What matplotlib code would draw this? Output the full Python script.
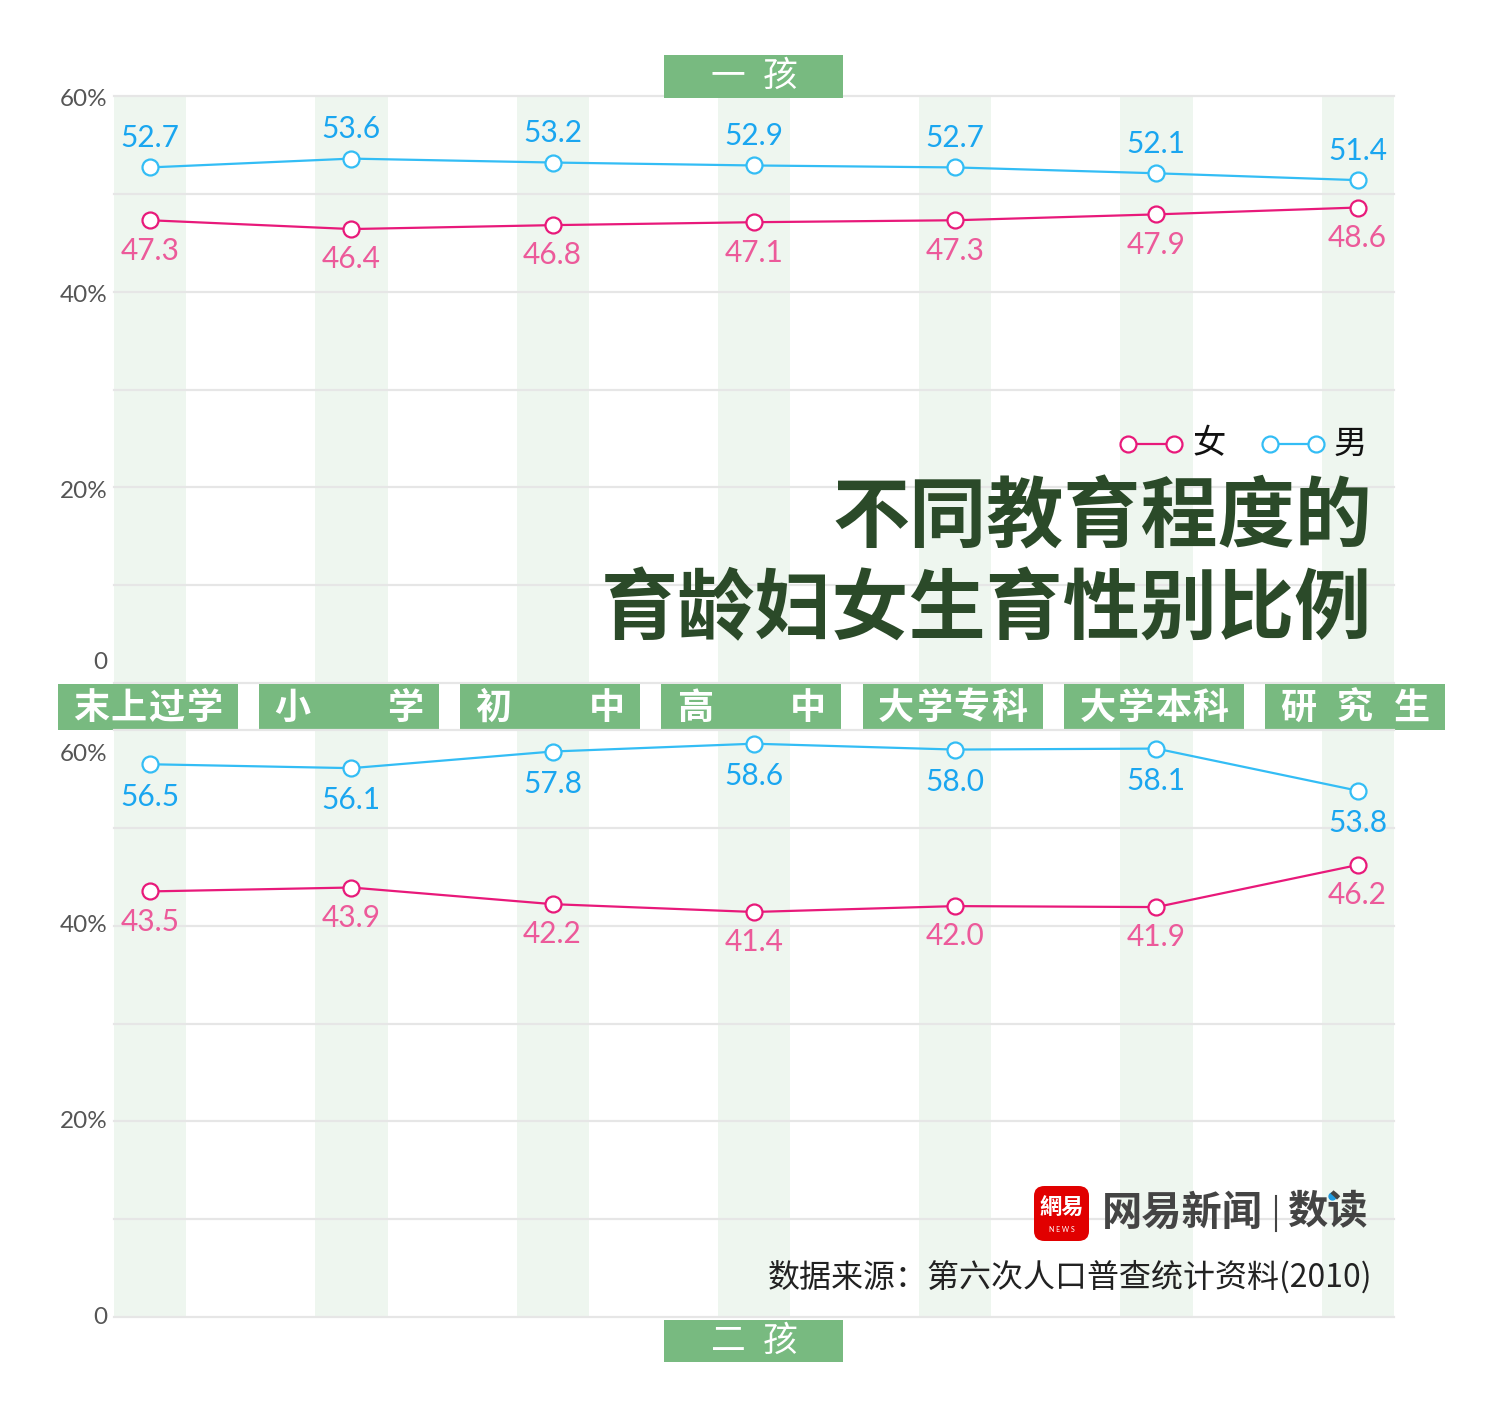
import numpy as np
import matplotlib
matplotlib.use("Agg")
import matplotlib.pyplot as plt
from matplotlib.patches import Rectangle, FancyBboxPatch
from matplotlib.lines import Line2D

plt.rcParams['font.family'] = ['Noto Sans CJK SC', 'DejaVu Sans']

# data
categories = ['末上过学', '小学', '初中', '高中', '大学专科', '大学本科', '研究生']
first_male = [52.7, 53.6, 53.2, 52.9, 52.7, 52.1, 51.4]
first_female = [47.3, 46.4, 46.8, 47.1, 47.3, 47.9, 48.6]
second_male = [56.5, 56.1, 57.8, 58.6, 58.0, 58.1, 53.8]
second_female = [43.5, 43.9, 42.2, 41.4, 42.0, 41.9, 46.2]
tick_vals = [0, 20, 40, 60]
tick_text = ['0', '20%', '40%', '60%']

BLUE = '#33BDF5'
BLUE_TXT = '#1AA6F0'
PINK = '#E8197A'
PINK_TXT = '#EC5A9A'
GREEN = '#78BA80'
STRIPE = '#EEF6EF'
GRID = '#E6E6E6'
TITLE = '#2B4A29'
NUMFONT = ['Lato', 'DejaVu Sans']

W, H = 1500, 1414
fig = plt.figure(figsize=(15, 14.14), dpi=100)


def fy(py):
    return 1 - py / H


def make_ax(top, bottom):
    ax = fig.add_axes([114 / W, fy(bottom), 1280 / W, (bottom - top) / H])
    ax.set_xlim(-0.179, 6.181)
    ax.set_ylim(0, 60)
    for s in ax.spines.values():
        s.set_visible(False)
    ax.set_xticks([])
    ax.set_yticks([])
    ax.patch.set_alpha(0)
    x = np.arange(len(categories))
    for i in x:
        ax.axvspan(i - 0.179, i + 0.181, color=STRIPE, lw=0, zorder=0)
    for g in range(0, 70, 10):
        ax.axhline(g, color=GRID, lw=1.6, zorder=1, clip_on=False)
    return ax, x


ax1, x = make_ax(96, 683)
ax2, _ = make_ax(730, 1317)

ms = 11.5
for ax, male, female, male_up in [(ax1, first_male, first_female, True),
                                  (ax2, second_male, second_female, False)]:
    ax.plot(x, male, color=BLUE, lw=1.6, marker='o', ms=ms, mfc='white',
            mec=BLUE, mew=1.6, zorder=4, clip_on=False)
    ax.plot(x, female, color=PINK, lw=1.6, marker='o', ms=ms, mfc='white',
            mec=PINK, mew=1.6, zorder=4, clip_on=False)
    for xi, m, f in zip(x, male, female):
        dy = 3.0 if male_up else -3.3
        ax.text(xi, m + dy, f'{m:.1f}', ha='center', va='center', color=BLUE_TXT,
                fontsize=21.5, family=NUMFONT, zorder=5)
        ax.text(xi, f - 3.1, f'{f:.1f}', ha='center', va='center', color=PINK_TXT,
                fontsize=21.5, family=NUMFONT, zorder=5)

# y tick labels
tr1 = ax1.get_yaxis_transform()
tr2 = ax2.get_yaxis_transform()
for v, t in zip(tick_vals, tick_text):
    y1 = v + 2.1 if v == 0 else v - 0.4
    ax1.text(-0.005, y1, t, transform=tr1, ha='right', va='center', fontsize=17.5,
             color='#555555', family=NUMFONT)
    y2 = v - 2.5 if v == 60 else v
    ax2.text(-0.005, y2, t, transform=tr2, ha='right', va='center', fontsize=17.5,
             color='#555555', family=NUMFONT)

# category boxes between the panels
bt = ax1.get_xaxis_transform()
bw = 180 / 201.25
cw = 37 / 201.25
pad = 15 / 201.25
y0 = (683 - 730) / 587
y1 = (683 - 684) / 587
for i, lab in enumerate(categories):
    left = i - 0.012 - bw / 2
    ax1.add_patch(Rectangle((left, y0), bw, y1 - y0, transform=bt, color=GREEN,
                            lw=0, zorder=6, clip_on=False))
    n = len(lab)
    span = bw - 2 * pad - cw
    for k, ch in enumerate(lab):
        cx = left + pad + cw / 2 + k * span / (n - 1)
        ax1.text(cx, (y0 + y1) / 2 - 0.002, ch, transform=bt, ha='center', va='center',
                 color='white', fontsize=26, weight='bold', zorder=7)

# panel titles
for ax, ya, yb, chars in [(ax1, (683 - 98) / 587, (683 - 55) / 587, '一孩'),
                          (ax2, (1317 - 1362) / 587, (1317 - 1320) / 587, '二孩')]:
    t = ax.get_xaxis_transform()
    w = 179 / 201.25
    ax.add_patch(Rectangle((3 - w / 2, ya), w, yb - ya, transform=t, color=GREEN,
                           lw=0, zorder=6, clip_on=False))
    for off, ch in zip([-25.5 / 201.25, 26 / 201.25], chars):
        ax.text(3 + off, (ya + yb) / 2, ch, transform=t, ha='center', va='center',
                color='white', fontsize=25, zorder=7)

# legend
for xa, xb, col, lab, tx in [(1128, 1174, PINK, '女', 1192), (1270, 1316, BLUE, '男', 1334)]:
    fig.add_artist(Line2D([xa / W, xb / W], [fy(444), fy(444)], color=col, lw=1.6,
                          marker='o', ms=ms, mfc='white', mec=col, mew=1.6))
    fig.text(tx / W, fy(444), lab, ha='left', va='center', fontsize=24, color='#111111')

# title
fig.text(1372 / W, fy(519), '不同教育程度的', ha='right', va='center', fontsize=55.5,
         weight='bold', color=TITLE)
fig.text(1372 / W, fy(611), '育龄妇女生育性别比例', ha='right', va='center', fontsize=55.5,
         weight='bold', color=TITLE)

# logo
fig.add_artist(FancyBboxPatch((1034 / W, fy(1241)), 55 / W, 55 / H,
                              boxstyle='round,pad=0,rounding_size=0.007',
                              transform=fig.transFigure, color='#E10000', lw=0))
fig.text(1061.5 / W, fy(1208), '網易', ha='center', va='center', fontsize=16,
         weight='bold', color='white')
fig.text(1061.5 / W, fy(1229), 'N E W S', ha='center', va='center', fontsize=5,
         color='white', family=NUMFONT)
fig.text(1102 / W, fy(1213), '网易新闻', ha='left', va='center', fontsize=29,
         weight='bold', color='#444444')
fig.add_artist(Line2D([1276 / W, 1276 / W], [fy(1196), fy(1231)], color='#444444', lw=1.5))
fig.text(1287 / W, fy(1213), '数读', ha='left', va='center', fontsize=29,
         weight='bold', color='#444444')
fig.add_artist(Line2D([1332 / W], [fy(1196)], marker='o', ms=5, color='#1E9BE0',
                      mec='#1E9BE0'))

# source
fig.text(1372 / W, fy(1277), '数据来源：第六次人口普查统计资料(2010)', ha='right',
         va='center', fontsize=23, color='#222222')

fig.savefig('out.png', dpi=100, facecolor='white')
